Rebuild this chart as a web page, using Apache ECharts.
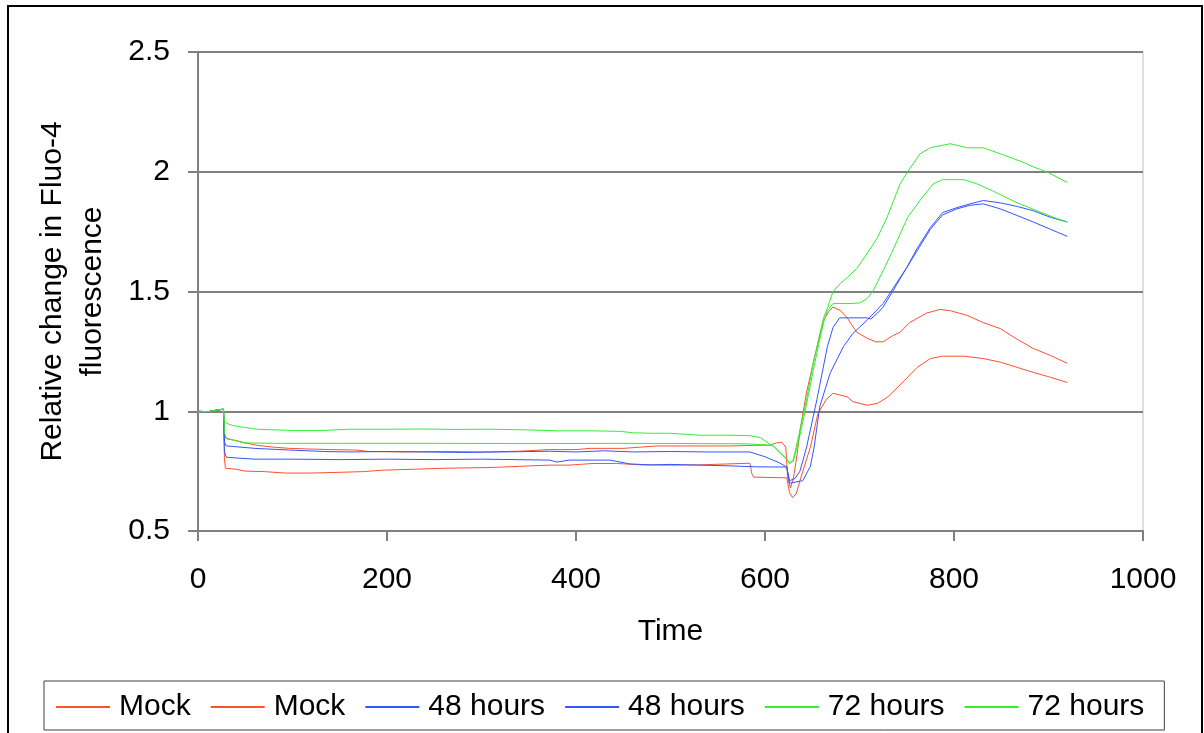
<!DOCTYPE html>
<html>
<head>
<meta charset="utf-8">
<script src="https://cdn.jsdelivr.net/npm/echarts@6/dist/echarts.min.js"></script>
<style>html,body{margin:0;padding:0;background:#fff}#c{width:1204px;height:733px}</style>
</head>
<body>
<div id="c"></div>
<script>
var seriesNames = ['Mock#1','Mock#2','48 hours#1','48 hours#2','72 hours#1','72 hours#2'];
var xTicks = {min: 0, max: 1000, interval: 200};
var yTicks = {min: 0.5, max: 2.5, interval: 0.5};

var mockA = [[0,1.0],[10,0.998],[20,1.005],[27,1.008],[28,0.90],[30,0.885],[40,0.878],[50,0.868],[62,0.858],[80,0.85],[97,0.845],[120,0.842],[140,0.84],[168,0.838],[180,0.832],[220,0.83],[260,0.832],[300,0.83],[340,0.833],[372,0.84],[400,0.84],[415,0.845],[450,0.845],[485,0.855],[520,0.855],[563,0.855],[590,0.858],[605,0.858],[612,0.868],[618,0.87],[622,0.85],[624,0.72],[627,0.68],[630,0.72],[634,0.82],[637,0.92],[644,1.08],[651,1.20],[658,1.32],[662,1.38],[668,1.42],[672,1.435],[680,1.42],[687,1.39],[697,1.33],[708,1.305],[717,1.29],[725,1.29],[735,1.315],[743,1.33],[753,1.37],[771,1.41],[785,1.425],[796,1.42],[814,1.40],[831,1.37],[849,1.345],[867,1.30],[884,1.262],[902,1.233],[920,1.20]];
var mockB = [[0,1.0],[10,0.998],[20,1.005],[27,1.008],[28,0.80],[29,0.762],[40,0.758],[50,0.75],[70,0.748],[92,0.742],[120,0.742],[150,0.745],[175,0.748],[196,0.754],[230,0.758],[259,0.762],[309,0.765],[340,0.77],[372,0.775],[393,0.775],[418,0.782],[443,0.782],[470,0.776],[500,0.775],[530,0.776],[560,0.78],[584,0.783],[586,0.74],[588,0.725],[610,0.723],[623,0.722],[626,0.66],[629,0.64],[633,0.655],[637,0.71],[644,0.80],[648,0.85],[656,0.99],[665,1.05],[672,1.075],[687,1.06],[693,1.04],[708,1.025],[719,1.033],[730,1.06],[743,1.11],[761,1.183],[775,1.22],[788,1.23],[810,1.23],[831,1.22],[849,1.205],[867,1.183],[884,1.162],[902,1.142],[920,1.12]];
var h48A = [[0,1.0],[10,0.998],[20,1.005],[27,1.008],[28,0.87],[30,0.855],[40,0.852],[60,0.845],[97,0.838],[133,0.832],[160,0.83],[200,0.832],[240,0.83],[280,0.828],[320,0.83],[372,0.833],[400,0.83],[430,0.835],[460,0.83],[500,0.832],[540,0.83],[584,0.83],[600,0.81],[615,0.785],[623,0.767],[626,0.71],[632,0.72],[637,0.75],[644,0.85],[655,1.05],[666,1.27],[672,1.35],[679,1.39],[695,1.39],[708,1.39],[712,1.385],[719,1.41],[725,1.435],[735,1.5],[750,1.6],[761,1.68],[775,1.767],[788,1.83],[803,1.85],[817,1.866],[831,1.88],[849,1.87],[867,1.855],[884,1.837],[902,1.81],[920,1.79]];
var h48B = [[0,1.0],[10,0.998],[20,1.005],[27,1.008],[28,0.83],[30,0.808],[40,0.805],[60,0.80],[100,0.80],[150,0.798],[200,0.80],[250,0.798],[300,0.80],[372,0.796],[380,0.788],[393,0.796],[436,0.796],[457,0.78],[480,0.776],[500,0.778],[530,0.775],[563,0.772],[590,0.768],[623,0.767],[626,0.70],[640,0.71],[648,0.77],[652,0.85],[658,1.02],[669,1.16],[683,1.27],[693,1.325],[708,1.38],[725,1.45],[735,1.51],[750,1.6],[761,1.67],[775,1.76],[788,1.82],[803,1.845],[817,1.86],[831,1.866],[849,1.845],[867,1.817],[884,1.79],[902,1.76],[920,1.73]];
var h72A = [[0,1.0],[10,0.998],[20,1.005],[27,1.01],[28,0.96],[30,0.95],[37,0.94],[48,0.933],[62,0.925],[97,0.92],[133,0.92],[161,0.925],[203,0.925],[238,0.926],[270,0.924],[309,0.925],[350,0.922],[383,0.918],[420,0.918],[447,0.916],[460,0.91],[480,0.908],[500,0.908],[531,0.9],[560,0.9],[584,0.898],[595,0.89],[610,0.85],[623,0.80],[626,0.78],[630,0.80],[637,0.92],[644,1.05],[651,1.2],[658,1.32],[662,1.39],[666,1.43],[672,1.50],[680,1.535],[687,1.558],[697,1.596],[708,1.658],[719,1.725],[729,1.808],[743,1.95],[751,2.0],[764,2.075],[775,2.1],[796,2.117],[814,2.1],[831,2.1],[849,2.075],[873,2.04],[884,2.02],[898,2.0],[920,1.955]];
var h72B = [[0,1.0],[10,0.998],[20,1.005],[27,1.01],[28,0.91],[30,0.888],[37,0.88],[48,0.868],[80,0.866],[150,0.866],[250,0.866],[350,0.865],[450,0.866],[530,0.865],[580,0.864],[608,0.858],[623,0.80],[626,0.785],[630,0.79],[637,0.90],[644,1.03],[651,1.17],[658,1.30],[662,1.37],[666,1.42],[672,1.45],[690,1.45],[700,1.452],[708,1.47],[714,1.5],[725,1.587],[735,1.67],[751,1.81],[764,1.88],[778,1.95],[788,1.967],[810,1.967],[824,1.95],[841,1.92],[867,1.87],[888,1.837],[905,1.81],[920,1.79]];

var seriesData = [mockA, mockB, h48A, h48B, h72A, h72B];
var colors = ['#ff5030','#ff5030','#3355ff','#3355ff','#33ee33','#33ee33'];
var FONT = "'Liberation Sans', Arial, sans-serif";

var chart = echarts.init(document.getElementById('c'));
chart.setOption({
  animation: false,
  backgroundColor: '#fff',
  textStyle: {fontFamily: FONT, color: '#000'},
  grid: {left: 198, right: 61, top: 52, bottom: 202, show: true, borderColor: '#c0c0c0', borderWidth: 1, containLabel: false},
  xAxis: {
    type: 'value', min: xTicks.min, max: xTicks.max, interval: xTicks.interval,
    axisLine: {show: true, onZero: false, lineStyle: {color: '#808080', width: 2}},
    axisTick: {show: true, length: 10, lineStyle: {color: '#808080', width: 2}},
    axisLabel: {fontSize: 30, color: '#000', margin: 34, fontFamily: FONT, formatter: function (v) { return String(v); }},
    splitLine: {show: false},
    name: 'Time', nameLocation: 'middle', nameGap: 86,
    nameTextStyle: {fontSize: 30, color: '#000', fontFamily: FONT}
  },
  yAxis: {
    type: 'value', min: yTicks.min, max: yTicks.max, interval: yTicks.interval,
    axisLine: {show: true, lineStyle: {color: '#808080', width: 2}},
    axisTick: {show: true, length: 10, lineStyle: {color: '#808080', width: 2}},
    axisLabel: {fontSize: 30, color: '#000', margin: 28, fontFamily: FONT},
    splitLine: {show: true, lineStyle: {color: '#808080', width: 2}},
    name: 'Relative change in Fluo-4\nfluorescence', nameLocation: 'middle', nameGap: 85,
    nameTextStyle: {fontSize: 30, color: '#000', lineHeight: 40, align: 'center', fontFamily: FONT}
  },
  legend: {
    left: 44, top: 681, orient: 'horizontal',
    padding: [11, 20, 8, 12],
    borderColor: '#404040', borderWidth: 1,
    icon: 'rect',
    itemWidth: 54, itemHeight: 2, itemGap: 20,
    textStyle: {fontSize: 30, color: '#000', fontFamily: FONT, padding: [0, 0, 0, 4]},
    formatter: function (n) { return n.split('#')[0]; },
    data: seriesNames
  },
  graphic: [{
    type: 'rect', silent: true, z: 100,
    shape: {x: 8, y: 6, width: 1194, height: 745},
    style: {fill: 'none', stroke: '#000', lineWidth: 2}
  }],
  series: seriesNames.map(function (n, i) {
    return {
      name: n, type: 'line', data: seriesData[i], symbol: 'none', showSymbol: false,
      lineStyle: {width: 1, color: colors[i]}, itemStyle: {color: colors[i]}, z: 3
    };
  })
});
</script>
</body>
</html>
